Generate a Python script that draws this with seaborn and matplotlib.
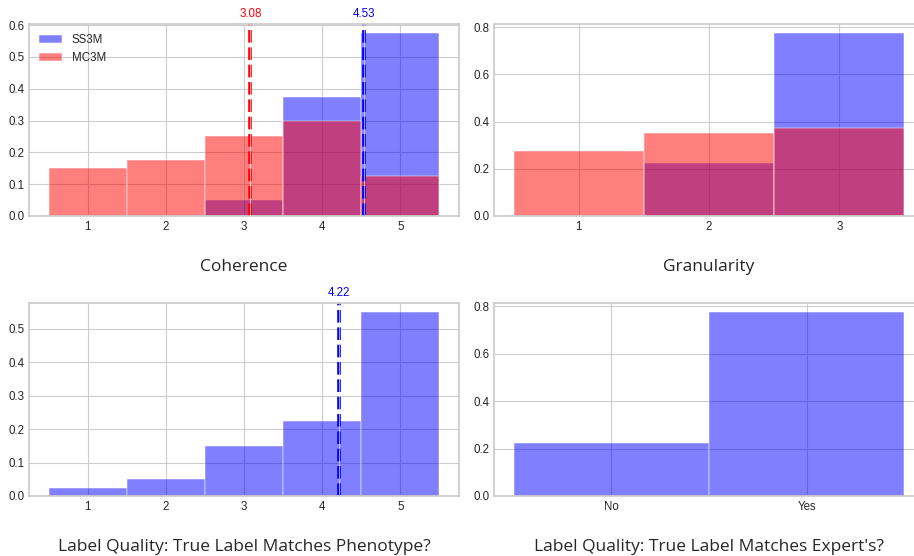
import numpy as np
import pandas as pd
import seaborn as sns
import matplotlib.pyplot as plt
from matplotlib.transforms import offset_copy

# data (proportions per score)
coh_scores = [1, 2, 3, 4, 5]
coh_ss3m = [0.0, 0.0, 0.05, 0.375, 0.575]
coh_mc3m = [0.15, 0.175, 0.25, 0.30, 0.125]
coh_means = {"SS3M": 4.53, "MC3M": 3.08}

gran_scores = [1, 2, 3]
gran_ss3m = [0.0, 0.225, 0.775]
gran_mc3m = [0.275, 0.35, 0.375]

pheno_scores = [1, 2, 3, 4, 5]
pheno_ss3m = [0.025, 0.05, 0.15, 0.225, 0.55]
pheno_mean = 4.22

expert_labels = ["No", "Yes"]
expert_ss3m = [0.225, 0.775]

sns.set_style("whitegrid")
plt.rcParams['font.family'] = ['Liberation Sans', 'DejaVu Sans']
label_font = "Open Sans"

fig = plt.figure(figsize=(9.14, 5.56), dpi=100)
ax1 = fig.add_axes([29/914, 1-216/556, 430/914, 192/556])
ax2 = fig.add_axes([494/914, 1-216/556, 430/914, 192/556])
ax3 = fig.add_axes([29/914, 1-496/556, 430/914, 193/556])
ax4 = fig.add_axes([494/914, 1-496/556, 430/914, 193/556])

bar_kw = dict(discrete=True, alpha=0.5, edgecolor="white", linewidth=0.35)


def mean_line(ax, m, c):
    # dashed mean line with a thin white core
    ax.axvline(m, color=c, linestyle="--", linewidth=2.6, dashes=(3.5, 1.3))
    ax.axvline(m, color="white", linewidth=0.5, alpha=0.85)
    trans = offset_copy(ax.get_xaxis_transform(), fig=fig, y=3, units="points")
    ax.text(m, 1.0, "%.2f" % m, color=c, ha="center", va="bottom",
            fontsize=8.3, transform=trans)


# Coherence
sns.histplot(x=coh_scores, weights=coh_ss3m, color="blue", label="SS3M", ax=ax1, **bar_kw)
sns.histplot(x=coh_scores, weights=coh_mc3m, color="red", label="MC3M", ax=ax1, **bar_kw)
ax1.set_xticks(coh_scores)
ax1.legend(loc="upper left", fontsize=8.3, frameon=False)
mean_line(ax1, coh_means["MC3M"], "red")
mean_line(ax1, coh_means["SS3M"], "blue")
ax1.set_xlabel("Coherence")

# Granularity
sns.histplot(x=gran_scores, weights=gran_ss3m, color="blue", ax=ax2, **bar_kw)
sns.histplot(x=gran_scores, weights=gran_mc3m, color="red", ax=ax2, **bar_kw)
ax2.set_xticks(gran_scores)
ax2.set_yticks([0.0, 0.2, 0.4, 0.6, 0.8])
ax2.set_xlabel("Granularity")

# Label quality vs phenotype
sns.histplot(x=pheno_scores, weights=pheno_ss3m, color="blue", ax=ax3, **bar_kw)
ax3.set_xticks(pheno_scores)
mean_line(ax3, pheno_mean, "blue")
ax3.set_xlabel("Label Quality: True Label Matches Phenotype?")

# Label quality vs expert
sns.histplot(x=expert_labels, weights=expert_ss3m, color="blue", ax=ax4, **bar_kw)
ax4.set_yticks([0.0, 0.2, 0.4, 0.6, 0.8])
ax4.set_xlabel("Label Quality: True Label Matches Expert's?")

for ax in [ax1, ax2, ax3, ax4]:
    ax.set_ylabel("")
    ax.tick_params(labelsize=8.3, colors="0.15", length=0, pad=3.5)
    ax.xaxis.label.set_fontfamily(label_font)
    ax.xaxis.label.set_fontsize(12.5)
    ax.xaxis.label.set_color("0.15")
    ax.xaxis.labelpad = 19
    for s in ax.spines.values():
        s.set_color("0.8")
        s.set_linewidth(1.25)

plt.savefig("out.png", dpi=100)
